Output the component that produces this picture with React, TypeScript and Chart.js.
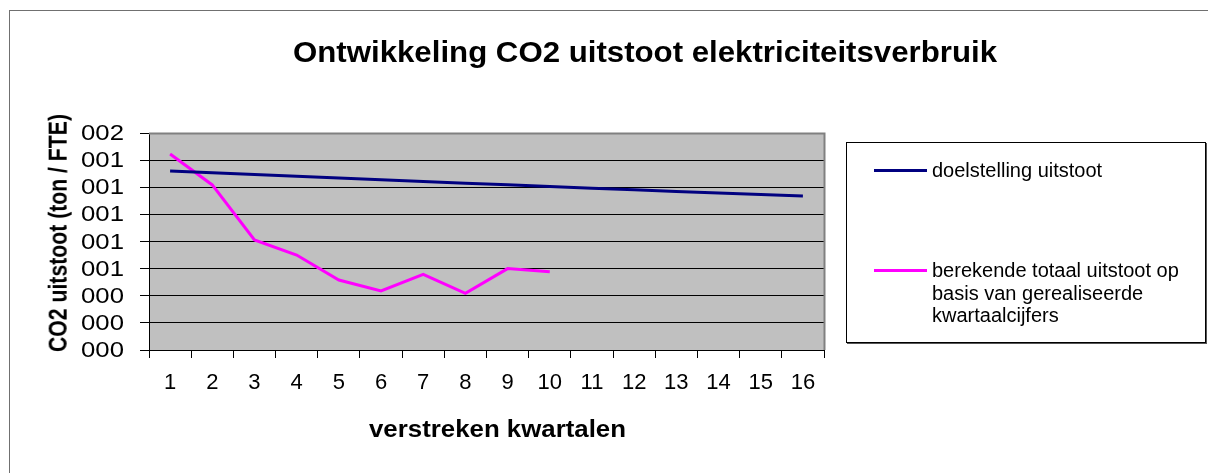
import React, { useEffect, useRef } from "react";
import { Chart, registerables } from "chart.js";

Chart.register(...registerables);

// ---- data ----
const categories = ["1", "2", "3", "4", "5", "6", "7", "8", "9", "10", "11", "12", "13", "14", "15", "16"];
const doelstellingValues = [
  0.00132, 0.001307, 0.001294, 0.001281, 0.001268, 0.001255, 0.001242, 0.00123,
  0.001218, 0.001205, 0.001193, 0.001181, 0.001169, 0.001158, 0.001146, 0.001135,
];
const berekendValues = [
  0.001445, 0.001217, 0.000811, 0.0007, 0.000516, 0.000435, 0.000558, 0.000418, 0.0006, 0.000577,
];
const yTickLabels = ["000", "000", "000", "001", "001", "001", "001", "001", "002"];
const seriesNames = ["doelstelling uitstoot", "berekende totaal uitstoot op basis van gerealiseerde kwartaalcijfers"];
const legendLines2 = ["berekende totaal uitstoot op", "basis van gerealiseerde", "kwartaalcijfers"];
const chartTitle = "Ontwikkeling CO2 uitstoot elektriciteitsverbruik";
const xTitle = "verstreken kwartalen";
const yTitle = "CO2 uitstoot (ton / FTE)";

const FONT = '"Liberation Sans", Arial, sans-serif';

function measure(text: string, size: number, bold: boolean) {
  const c = document.createElement("canvas").getContext("2d")!;
  c.font = `${bold ? "bold " : ""}${size}px "Liberation Sans"`;
  return c.measureText(text).width;
}

function HText(props: { text: string; x: number; baseline: number; size: number; bold?: boolean; width?: number }) {
  const { text, x, baseline, size, bold, width } = props;
  const w = measure(text, size, !!bold);
  const sx = width ? width / w : 1;
  return (
    <div
      style={{
        position: "absolute",
        left: x,
        top: baseline - 0.8465 * size,
        fontFamily: FONT,
        fontSize: size,
        lineHeight: `${size}px`,
        fontWeight: bold ? "bold" : "normal",
        whiteSpace: "nowrap",
        color: "#000",
        transform: `scaleX(${sx})`,
        transformOrigin: "left top",
      }}
    >
      {text}
    </div>
  );
}

function VText(props: { text: string; cx: number; cy: number; size: number; length: number; sy: number }) {
  const { text, cx, cy, size, length, sy } = props;
  const w = measure(text, size, true);
  const sx = length / w;
  return (
    <div
      style={{
        position: "absolute",
        left: cx,
        top: cy,
        fontFamily: FONT,
        fontSize: size,
        lineHeight: `${size}px`,
        fontWeight: "bold",
        whiteSpace: "nowrap",
        color: "#000",
        transform: `translate(-50%, -50%) rotate(-90deg) scale(${sx}, ${sy})`,
        transformOrigin: "center center",
      }}
    >
      {text}
    </div>
  );
}

const plotBg = {
  id: "plotBg",
  beforeDraw(chart: any) {
    const { ctx, chartArea: a } = chart;
    ctx.save();
    ctx.fillStyle = "#c0c0c0";
    ctx.fillRect(a.left, a.top, a.right - a.left, a.bottom - a.top);
    ctx.restore();
  },
  beforeDatasetsDraw(chart: any) {
    const { ctx, chartArea: a } = chart;
    ctx.save();
    ctx.strokeStyle = "#808080";
    ctx.lineWidth = 2;
    ctx.beginPath();
    ctx.moveTo(a.left, a.top + 0.5);
    ctx.lineTo(a.right + 0.5, a.top + 0.5);
    ctx.lineTo(a.right + 0.5, a.bottom);
    ctx.stroke();
    ctx.restore();
  },
  afterDraw(chart: any) {
    const { ctx, chartArea: a } = chart;
    const ys = chart.scales.y;
    ctx.save();
    ctx.font = '22px "Liberation Sans", Arial, sans-serif';
    ctx.fillStyle = "#000";
    ctx.textAlign = "right";
    ctx.textBaseline = "middle";
    ys.ticks.forEach((t: any, i: number) => {
      const py = ys.getPixelForValue(t.value);
      ctx.save();
      ctx.translate(a.left - 25, py + 1);
      ctx.scale(1.17, 1);
      ctx.fillText(yTickLabels[i], 0, 0);
      ctx.restore();
    });
    ctx.restore();
  },
};

export default function App() {
  const ref = useRef<HTMLCanvasElement | null>(null);

  useEffect(() => {
    if (!ref.current) return;
    const chart = new Chart(ref.current, {
      type: "line",
      data: {
        labels: categories,
        datasets: [
          {
            label: seriesNames[0],
            data: doelstellingValues,
            borderColor: "#000080",
            backgroundColor: "#000080",
            borderWidth: 3,
            pointRadius: 0,
            tension: 0,
          },
          {
            label: seriesNames[1],
            data: berekendValues,
            borderColor: "#ff00ff",
            backgroundColor: "#ff00ff",
            borderWidth: 3,
            pointRadius: 0,
            tension: 0,
          },
        ],
      },
      options: {
        animation: false,
        responsive: false,
        devicePixelRatio: 1,
        layout: { padding: { left: 89, top: 133, right: 384, bottom: 73 } },
        plugins: {
          legend: { display: false },
          title: { display: false },
          tooltip: { enabled: false },
        },
        scales: {
          x: {
            type: "category",
            offset: true,
            grid: {
              offset: true,
              drawOnChartArea: false,
              drawTicks: true,
              tickLength: 8,
              color: "#000",
            },
            border: { color: "#000", width: 1 },
            ticks: {
              font: { family: FONT, size: 22 },
              color: "#000",
              padding: 12,
              maxRotation: 0,
              autoSkip: false,
            },
            afterFit: (s: any) => {
              s.height = 50;
            },
          },
          y: {
            min: 0,
            max: 0.0016,
            grid: { color: "#000", tickLength: 9, drawTicks: true },
            border: { color: "#000", width: 1 },
            ticks: {
              display: false,
              stepSize: 0.0002,
              autoSkip: false,
              callback: (_v: any, i: number) => yTickLabels[i],
            },
            afterFit: (s: any) => {
              s.width = 60;
            },
          },
        },
      },
      plugins: [plotBg],
    } as any);
    return () => chart.destroy();
  }, []);

  return (
    <div style={{ position: "absolute", left: 0, top: 0, width: 1208, height: 473, background: "#fff", overflow: "hidden" }}>
      <div
        style={{
          position: "absolute",
          left: 9,
          top: 10,
          width: 1220,
          height: 480,
          border: "1px solid #707070",
          boxSizing: "border-box",
        }}
      />
      <canvas ref={ref} width={1208} height={473} style={{ position: "absolute", left: 0, top: 0 }} />
      <HText text={chartTitle} x={293} baseline={63} size={29} bold width={704} />
      <HText text={xTitle} x={369} baseline={437} size={23} bold width={257} />
      <VText text={yTitle} cx={58} cy={233} size={22} length={238} sy={1.18} />
      <div
        style={{
          position: "absolute",
          left: 846,
          top: 142,
          width: 360,
          height: 201,
          border: "1px solid #000",
          boxSizing: "border-box",
          boxShadow: "1px 1px 0 #555",
          background: "#fff",
        }}
      />
      <div style={{ position: "absolute", left: 874, top: 169, width: 53, height: 3, background: "#000080" }} />
      <div style={{ position: "absolute", left: 874, top: 269, width: 53, height: 3, background: "#ff00ff" }} />
      <HText text={seriesNames[0]} x={932} baseline={177} size={20} />
      {legendLines2.map((t, i) => (
        <HText key={i} text={t} x={932} baseline={277 + i * 22.7} size={20} />
      ))}
    </div>
  );
}
